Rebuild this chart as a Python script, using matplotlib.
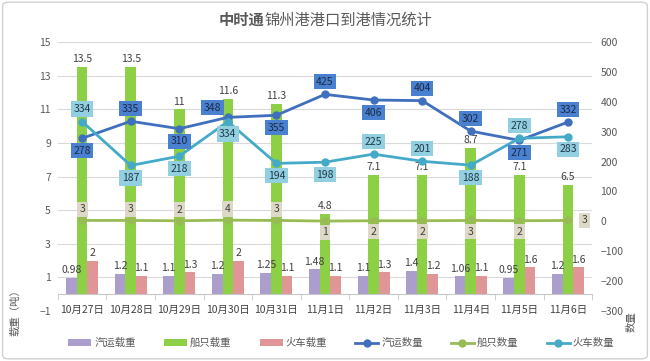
import matplotlib
matplotlib.use("Agg")
import matplotlib.pyplot as plt
import numpy as np
from matplotlib.patches import FancyBboxPatch

plt.rcParams['font.family'] = ['Noto Sans CJK SC', 'DejaVu Sans']

categories = ["10月27日", "10月28日", "10月29日", "10月30日", "10月31日", "11月1日",
              "11月2日", "11月3日", "11月4日", "11月5日", "11月6日"]
truck_load = [0.98, 1.2, 1.1, 1.2, 1.25, 1.48, 1.1, 1.4, 1.06, 0.95, 1.2]
ship_load = [13.5, 13.5, 11, 11.6, 11.3, 4.8, 7.1, 7.1, 8.7, 7.1, 6.5]
train_load = [2, 1.1, 1.3, 2, 1.1, 1.1, 1.3, 1.2, 1.1, 1.6, 1.6]
truck_count = [278, 335, 310, 348, 355, 425, 406, 404, 302, 271, 332]
ship_count = [3, 3, 2, 4, 3, 1, 2, 2, 3, 2, 3]
train_count = [334, 187, 218, 334, 194, 198, 225, 201, 188, 278, 283]

# label placement (offsets in points)
truck_off = [(0, -9), (0, 9), (0, -9), (-11, 7), (0, -9), (0, 9), (0, -9), (0, 9), (0, 9), (0, -9), (0, 9)]
train_off = [(0, 9), (0, -9), (0, -9), (0, -9), (0, -9), (0, -9), (0, 9), (0, 9), (0, -9), (0, 9), (0, -9)]
ship_off = [(0, 8), (0, 8), (0, 8), (0, 8), (0, 8), (0, -8), (0, -8), (0, -8), (0, -8), (0, -8), (12, 0)]

c_purple = '#ab9dcc'
c_green = '#8dd045'
c_red = '#e09696'
c_l1 = '#4070bd'
c_l2 = '#98bb55'
c_l3 = '#45aac8'

fig = plt.figure(figsize=(6.5, 3.61), dpi=100)
fig.patches.append(FancyBboxPatch((0.004, 0.006), 0.992, 0.988, boxstyle="round,pad=0,rounding_size=0.01",
                                  transform=fig.transFigure, facecolor='white', edgecolor='#d0d0d0', lw=1,
                                  zorder=-10))
ax = fig.add_axes([0.089, 0.1385, 0.822, 0.745])
ax.set_facecolor('none')
x = np.arange(len(categories))
w = 0.22
b1 = ax.bar(x - w, truck_load, w, color=c_purple, label='汽运载重', zorder=2)
b2 = ax.bar(x, ship_load, w, color=c_green, label='船只载重', zorder=2)
b3 = ax.bar(x + w, train_load, w, color=c_red, label='火车载重', zorder=2)
for bars in (b1, b2, b3):
    for r in bars:
        ax.annotate(f"{r.get_height():g}", (r.get_x() + r.get_width() / 2, r.get_height()),
                    xytext=(0, 2), textcoords='offset points', ha='center', va='bottom',
                    fontsize=7.5, color='#404040', zorder=3)

ax.set_ylim(-1, 15)
ax.set_yticks(np.arange(-1, 16, 2))
ax.set_xlim(-0.5, len(categories) - 0.5)
ax.grid(axis='y', color='#d9d9d9', lw=0.8, zorder=0)
ax.set_axisbelow(True)
for s in ['top', 'right', 'left']:
    ax.spines[s].set_visible(False)
ax.spines['bottom'].set_position(('data', 0))
ax.spines['bottom'].set_color('#c8c8c8')
ax.set_xticks(x)
ax.set_xticklabels(categories)
ax.set_xticks(np.arange(-0.5, len(categories), 1), minor=True)
ax.tick_params(axis='x', which='major', length=0, pad=8, labelsize=7.5, labelcolor='#404040')
ax.tick_params(axis='x', which='minor', length=4, color='#c8c8c8')
ax.tick_params(axis='y', length=0, labelsize=7.5, labelcolor='#595959', pad=5)

ax2 = ax.twinx()
ax2.set_ylim(-300, 600)
ax2.set_yticks(np.arange(-300, 601, 100))
for s in ax2.spines.values():
    s.set_visible(False)
ax2.tick_params(axis='y', length=0, labelsize=7.5, labelcolor='#595959', pad=6)
l1, = ax2.plot(x, truck_count, color=c_l1, lw=2, marker='o', ms=5, label='汽运数量', zorder=4)
l2, = ax2.plot(x, ship_count, color=c_l2, lw=2, marker='o', ms=5, label='船只数量', zorder=4)
l3, = ax2.plot(x, train_count, color=c_l3, lw=2, marker='o', ms=5, label='火车数量', zorder=4)

def boxlabels(vals, offs, fc, tc):
    for xi, v, o in zip(x, vals, offs):
        ax2.annotate(str(v), (xi, v), xytext=o, textcoords='offset points', ha='center', va='center',
                     fontsize=7.5, color=tc, zorder=6,
                     bbox=dict(boxstyle='square,pad=0.25', fc=fc, ec='none'))

boxlabels(truck_count, truck_off, '#4a80d0', '#1c2a44')
boxlabels(train_count, train_off, '#92cfe0', '#203848')
boxlabels(ship_count, ship_off, '#ddd9c6', '#404040')

fig.text(0.023, 0.14, '载重（吨）', rotation=90, ha='center', va='center', fontsize=7.5, color='#595959')
fig.text(0.972, 0.11, '数量', rotation=90, ha='center', va='center', fontsize=7.5, color='#595959')

fig.text(0.407, 0.945, '中时通', ha='right', va='center', fontsize=11, fontweight='bold', color='#595959')
fig.text(0.407, 0.945, '锦州港港口到港情况统计', ha='left', va='center', fontsize=11, color='#595959')

handles = [b1, b2, b3, l1, l2, l3]
fig.legend(handles, [h.get_label() for h in handles], loc='center', bbox_to_anchor=(0.525, 0.05), ncol=6,
           frameon=False, fontsize=7.5, handlelength=2.2, handleheight=0.6, columnspacing=2.7,
           handletextpad=0.3, labelcolor='#595959')

fig.savefig('out.png', dpi=100)
